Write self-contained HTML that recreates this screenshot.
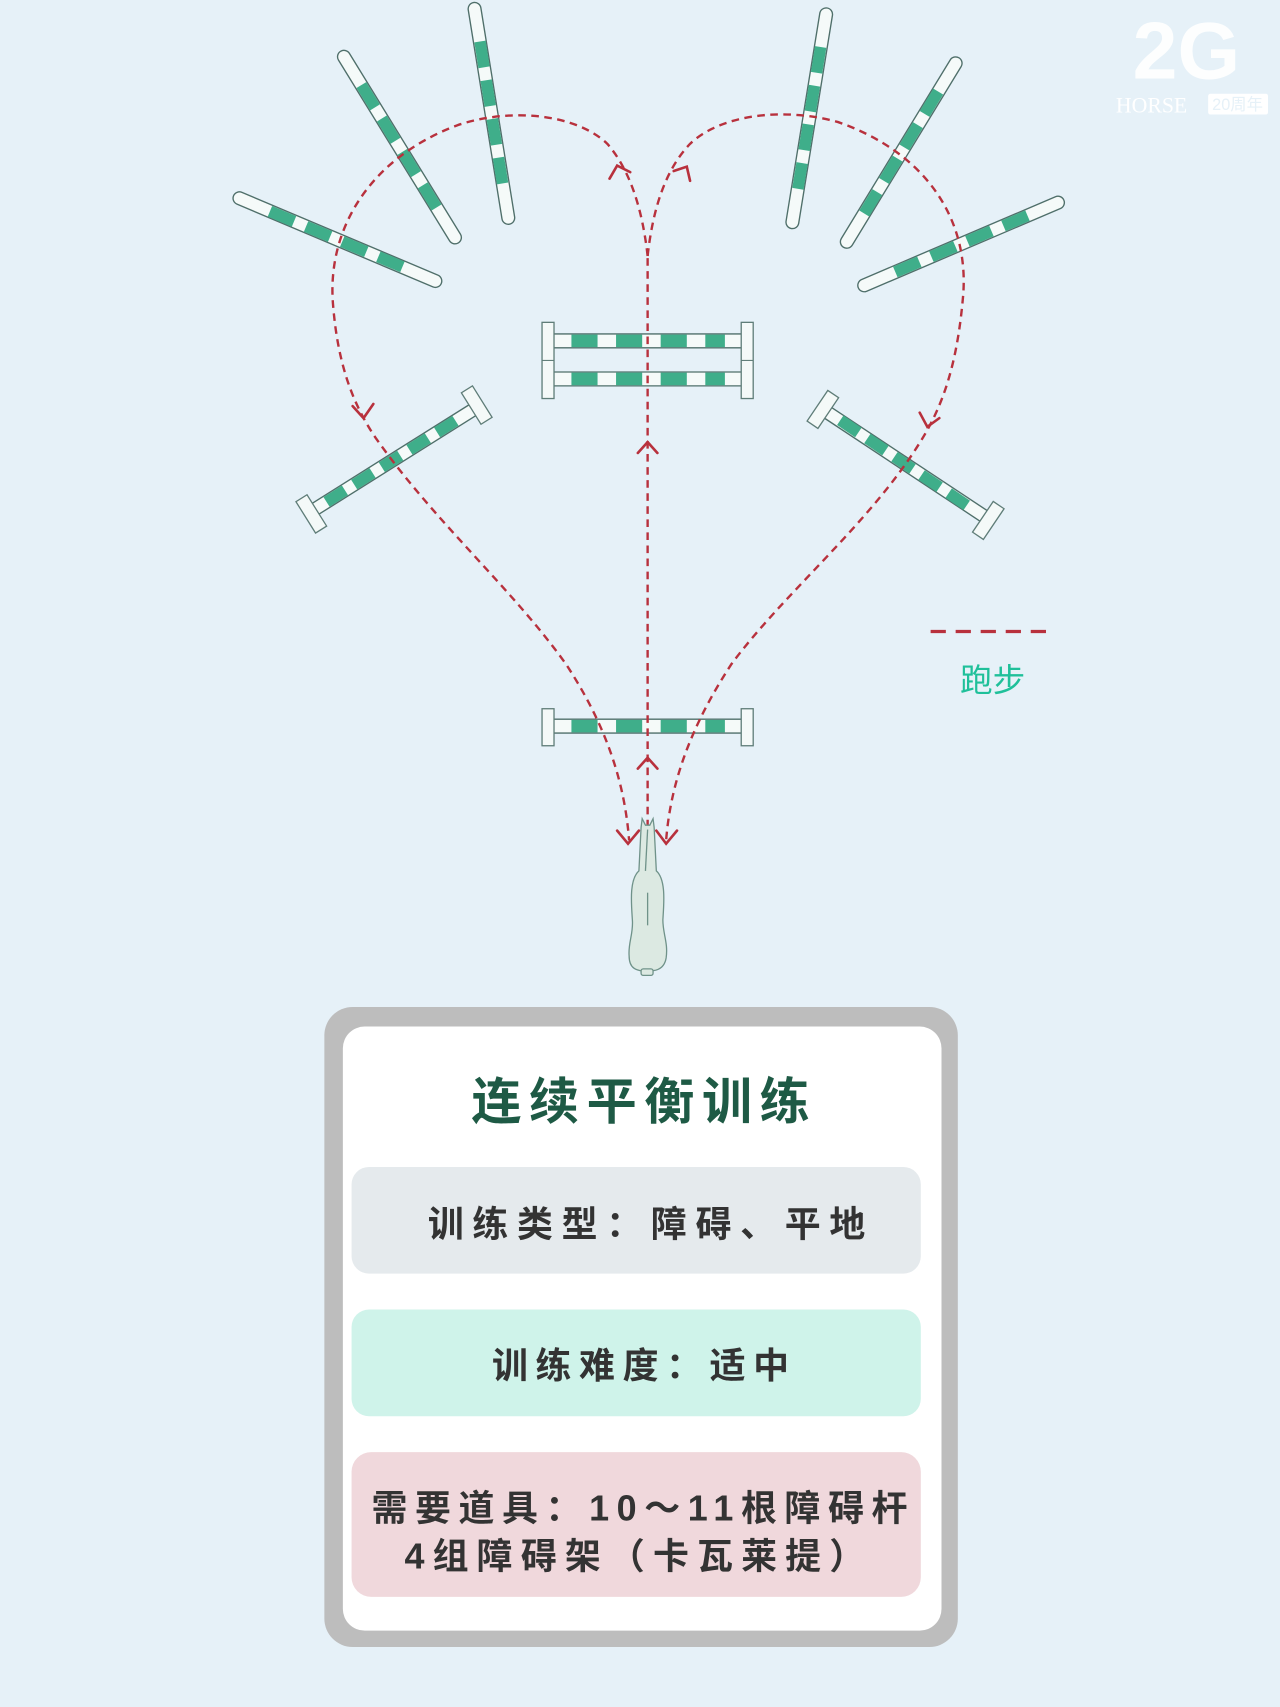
<!DOCTYPE html>
<html><head><meta charset="utf-8"><style>
html,body{margin:0;padding:0;background:#e6f1f8;}
svg{display:block}
</style></head><body>
<svg width="1280" height="1707" viewBox="0 0 1176 1568" xmlns="http://www.w3.org/2000/svg">
<rect width="1176" height="1568" fill="#e6f1f8"/>
<!-- poles -->
<g stroke-linecap="round">
<g>
<line x1="220" y1="182" x2="400" y2="258" stroke="#4f6f6a" stroke-width="13"/>
<line x1="220" y1="182" x2="400" y2="258" stroke="#f5faf9" stroke-width="10.5"/>
<line x1="248" y1="194" x2="372" y2="246" stroke="#3fae8a" stroke-width="10.5" stroke-linecap="butt" stroke-dasharray="24 12"/>
</g>
<g>
<line x1="316" y1="52" x2="418" y2="218" stroke="#4f6f6a" stroke-width="13"/>
<line x1="316" y1="52" x2="418" y2="218" stroke="#f5faf9" stroke-width="10.5"/>
<line x1="332" y1="78" x2="402" y2="192" stroke="#3fae8a" stroke-width="10.5" stroke-linecap="butt" stroke-dasharray="24 12"/>
</g>
<g>
<line x1="436" y1="8" x2="467" y2="200" stroke="#4f6f6a" stroke-width="13"/>
<line x1="436" y1="8" x2="467" y2="200" stroke="#f5faf9" stroke-width="10.5"/>
<line x1="441" y1="38" x2="462" y2="170" stroke="#3fae8a" stroke-width="10.5" stroke-linecap="butt" stroke-dasharray="24 12"/>
</g>
<g>
<line x1="759" y1="13" x2="728" y2="204" stroke="#4f6f6a" stroke-width="13"/>
<line x1="759" y1="13" x2="728" y2="204" stroke="#f5faf9" stroke-width="10.5"/>
<line x1="754" y1="43" x2="733" y2="174" stroke="#3fae8a" stroke-width="10.5" stroke-linecap="butt" stroke-dasharray="24 12"/>
</g>
<g>
<line x1="878" y1="58" x2="778" y2="222" stroke="#4f6f6a" stroke-width="13"/>
<line x1="878" y1="58" x2="778" y2="222" stroke="#f5faf9" stroke-width="10.5"/>
<line x1="862" y1="84" x2="794" y2="196" stroke="#3fae8a" stroke-width="10.5" stroke-linecap="butt" stroke-dasharray="24 12"/>
</g>
<g>
<line x1="972" y1="186" x2="794" y2="262" stroke="#4f6f6a" stroke-width="13"/>
<line x1="972" y1="186" x2="794" y2="262" stroke="#f5faf9" stroke-width="10.5"/>
<line x1="944" y1="198" x2="822" y2="250" stroke="#3fae8a" stroke-width="10.5" stroke-linecap="butt" stroke-dasharray="24 12"/>
</g>
<g>
<line x1="284" y1="471" x2="440" y2="373" stroke="#4f6f6a" stroke-width="13" stroke-linecap="butt"/>
<line x1="284" y1="471" x2="440" y2="373" stroke="#f5faf9" stroke-width="10.5" stroke-linecap="butt"/>
<line x1="300" y1="461" x2="424" y2="383" stroke="#3fae8a" stroke-width="10.5" stroke-linecap="butt" stroke-dasharray="20 10"/>
<rect x="-6" y="-17" width="12" height="34" fill="#f4f9f8" stroke="#5f7d78" stroke-width="1.2" transform="translate(286,472) rotate(-32)"/>
<rect x="-6" y="-17" width="12" height="34" fill="#f4f9f8" stroke="#5f7d78" stroke-width="1.2" transform="translate(438,372) rotate(-32)"/>
</g>
<g>
<line x1="756" y1="376" x2="910" y2="478" stroke="#4f6f6a" stroke-width="13" stroke-linecap="butt"/>
<line x1="756" y1="376" x2="910" y2="478" stroke="#f5faf9" stroke-width="10.5" stroke-linecap="butt"/>
<line x1="772" y1="386" x2="894" y2="468" stroke="#3fae8a" stroke-width="10.5" stroke-linecap="butt" stroke-dasharray="20 10"/>
<rect x="-6" y="-17" width="12" height="34" fill="#f4f9f8" stroke="#5f7d78" stroke-width="1.2" transform="translate(756,376) rotate(34)"/>
<rect x="-6" y="-17" width="12" height="34" fill="#f4f9f8" stroke="#5f7d78" stroke-width="1.2" transform="translate(908,478) rotate(34)"/>
</g>
<g stroke-linecap="butt">
<line x1="505" y1="313" x2="686" y2="313" stroke="#4f6f6a" stroke-width="14"/>
<line x1="505" y1="313" x2="686" y2="313" stroke="#f5faf9" stroke-width="11.5"/>
<line x1="525" y1="313" x2="666" y2="313" stroke="#3fae8a" stroke-width="11.5" stroke-dasharray="24 17"/>
<line x1="505" y1="348" x2="686" y2="348" stroke="#4f6f6a" stroke-width="14"/>
<line x1="505" y1="348" x2="686" y2="348" stroke="#f5faf9" stroke-width="11.5"/>
<line x1="525" y1="348" x2="666" y2="348" stroke="#3fae8a" stroke-width="11.5" stroke-dasharray="24 17"/>
<rect x="498" y="296" width="11" height="70" fill="#f4f9f8" stroke="#5f7d78" stroke-width="1.2"/>
<rect x="681" y="296" width="11" height="70" fill="#f4f9f8" stroke="#5f7d78" stroke-width="1.2"/>
<line x1="498" y1="331" x2="509" y2="331" stroke="#5f7d78" stroke-width="1"/>
<line x1="681" y1="331" x2="692" y2="331" stroke="#5f7d78" stroke-width="1"/>
<line x1="505" y1="667" x2="686" y2="667" stroke="#4f6f6a" stroke-width="14"/>
<line x1="505" y1="667" x2="686" y2="667" stroke="#f5faf9" stroke-width="11.5"/>
<line x1="525" y1="667" x2="666" y2="667" stroke="#3fae8a" stroke-width="11.5" stroke-dasharray="24 17"/>
<rect x="498" y="651" width="11" height="34" fill="#f4f9f8" stroke="#5f7d78" stroke-width="1.2"/>
<rect x="681" y="651" width="11" height="34" fill="#f4f9f8" stroke="#5f7d78" stroke-width="1.2"/>
</g>
</g>
<!-- paths -->
<g fill="none" stroke="#b8313d" stroke-width="2.2" stroke-dasharray="7 5">
<path d="M595,235 C590,190 578,155 558,132 C530,105 470,98 420,115 C340,145 300,210 306,280 C310,330 322,368 345,402 C400,480 470,540 520,610 C558,668 574,720 578,772"/>
<path d="M595,235 C600,190 612,155 634,132 C662,105 720,98 770,112 C850,140 890,200 885,270 C880,330 868,370 846,405 C800,480 720,545 672,610 C634,668 616,720 612,772"/>
<path d="M595,772 L595,235"/>
</g>
<g fill="none" stroke="#b8313d" stroke-width="2.4" stroke-linecap="round">
<polyline points="560,164 567,152 579,158"/>
<polyline points="619,157 631,153 634,166"/>
<polyline points="324,373 334,384 343,371"/>
<polyline points="845,379 852,392 863,384"/>
<polyline points="586,416 595,406 604,416"/>
<polyline points="586,706 595,696 604,706"/>
<polyline points="567,763 577,775 587,763"/>
<polyline points="603,763 612,775 622,763"/>
</g>
<!-- horse -->
<g stroke="#6f9289" stroke-width="1.2" fill="#dce9e2">
<path d="M590,752 L593,758 L597,758 L600,752 L601,760 L603,800 C612,808 610,830 609,845 C609,858 614,866 612,880 C610,892 600,892 594,892 C585,892 578,890 578,878 C577,866 582,858 581,845 C580,830 578,808 587,800 L589,760 Z"/>
<rect x="589" y="890" width="11" height="6" rx="2"/>
<line x1="595" y1="820" x2="595" y2="850" fill="none"/>
<line x1="595" y1="762" x2="593" y2="800" fill="none"/>
</g>
<!-- legend -->
<line x1="855" y1="580" x2="965" y2="580" stroke="#b8313d" stroke-width="3" stroke-dasharray="14 9"/>
<text x="912" y="635" font-size="30" fill="#1fc09a" text-anchor="middle" font-family="Liberation Sans, Noto Sans CJK SC, sans-serif">跑步</text>
<!-- logo -->
<text x="1090" y="72" font-size="74" font-weight="bold" fill="#ffffff" text-anchor="middle" font-family="Liberation Sans, sans-serif" opacity="0.95">2G</text>
<text x="1058" y="103" font-size="20" fill="#ffffff" text-anchor="middle" font-family="Liberation Serif, serif">HORSE</text>
<rect x="1110" y="86" width="55" height="19" rx="2" fill="#ffffff"/>
<text x="1137" y="101" font-size="15" fill="#e6f1f8" text-anchor="middle" font-family="Liberation Sans, Noto Sans CJK SC, sans-serif">20周年</text>
<!-- box -->
<rect x="298" y="925" width="582" height="588" rx="26" fill="#bdbdbd"/>
<rect x="315" y="943" width="550" height="555" rx="20" fill="#ffffff"/>
<text x="592" y="1028" font-size="46" font-weight="bold" fill="#1e5a45" text-anchor="middle" letter-spacing="7" font-family="Liberation Sans, Noto Sans CJK SC, sans-serif">连续平衡训练</text>
<rect x="323" y="1072" width="523" height="98" rx="16" fill="#e5eaed"/>
<text x="598" y="1136" font-size="33" font-weight="bold" fill="#333" text-anchor="middle" letter-spacing="8" font-family="Liberation Sans, Noto Sans CJK SC, sans-serif">训练类型：障碍、平地</text>
<rect x="323" y="1203" width="523" height="98" rx="16" fill="#cff3ea"/>
<text x="592" y="1266" font-size="33" font-weight="bold" fill="#333" text-anchor="middle" letter-spacing="7" font-family="Liberation Sans, Noto Sans CJK SC, sans-serif">训练难度：适中</text>
<rect x="323" y="1334" width="523" height="133" rx="18" fill="#f0d8dc"/>
<text x="591" y="1397" font-size="33" font-weight="bold" fill="#333" text-anchor="middle" letter-spacing="7" font-family="Liberation Sans, Noto Sans CJK SC, sans-serif">需要道具：10～11根障碍杆</text>
<text x="587" y="1441" font-size="33" font-weight="bold" fill="#333" text-anchor="middle" letter-spacing="7.5" font-family="Liberation Sans, Noto Sans CJK SC, sans-serif">4组障碍架（卡瓦莱提）</text>
</svg>
</body></html>
